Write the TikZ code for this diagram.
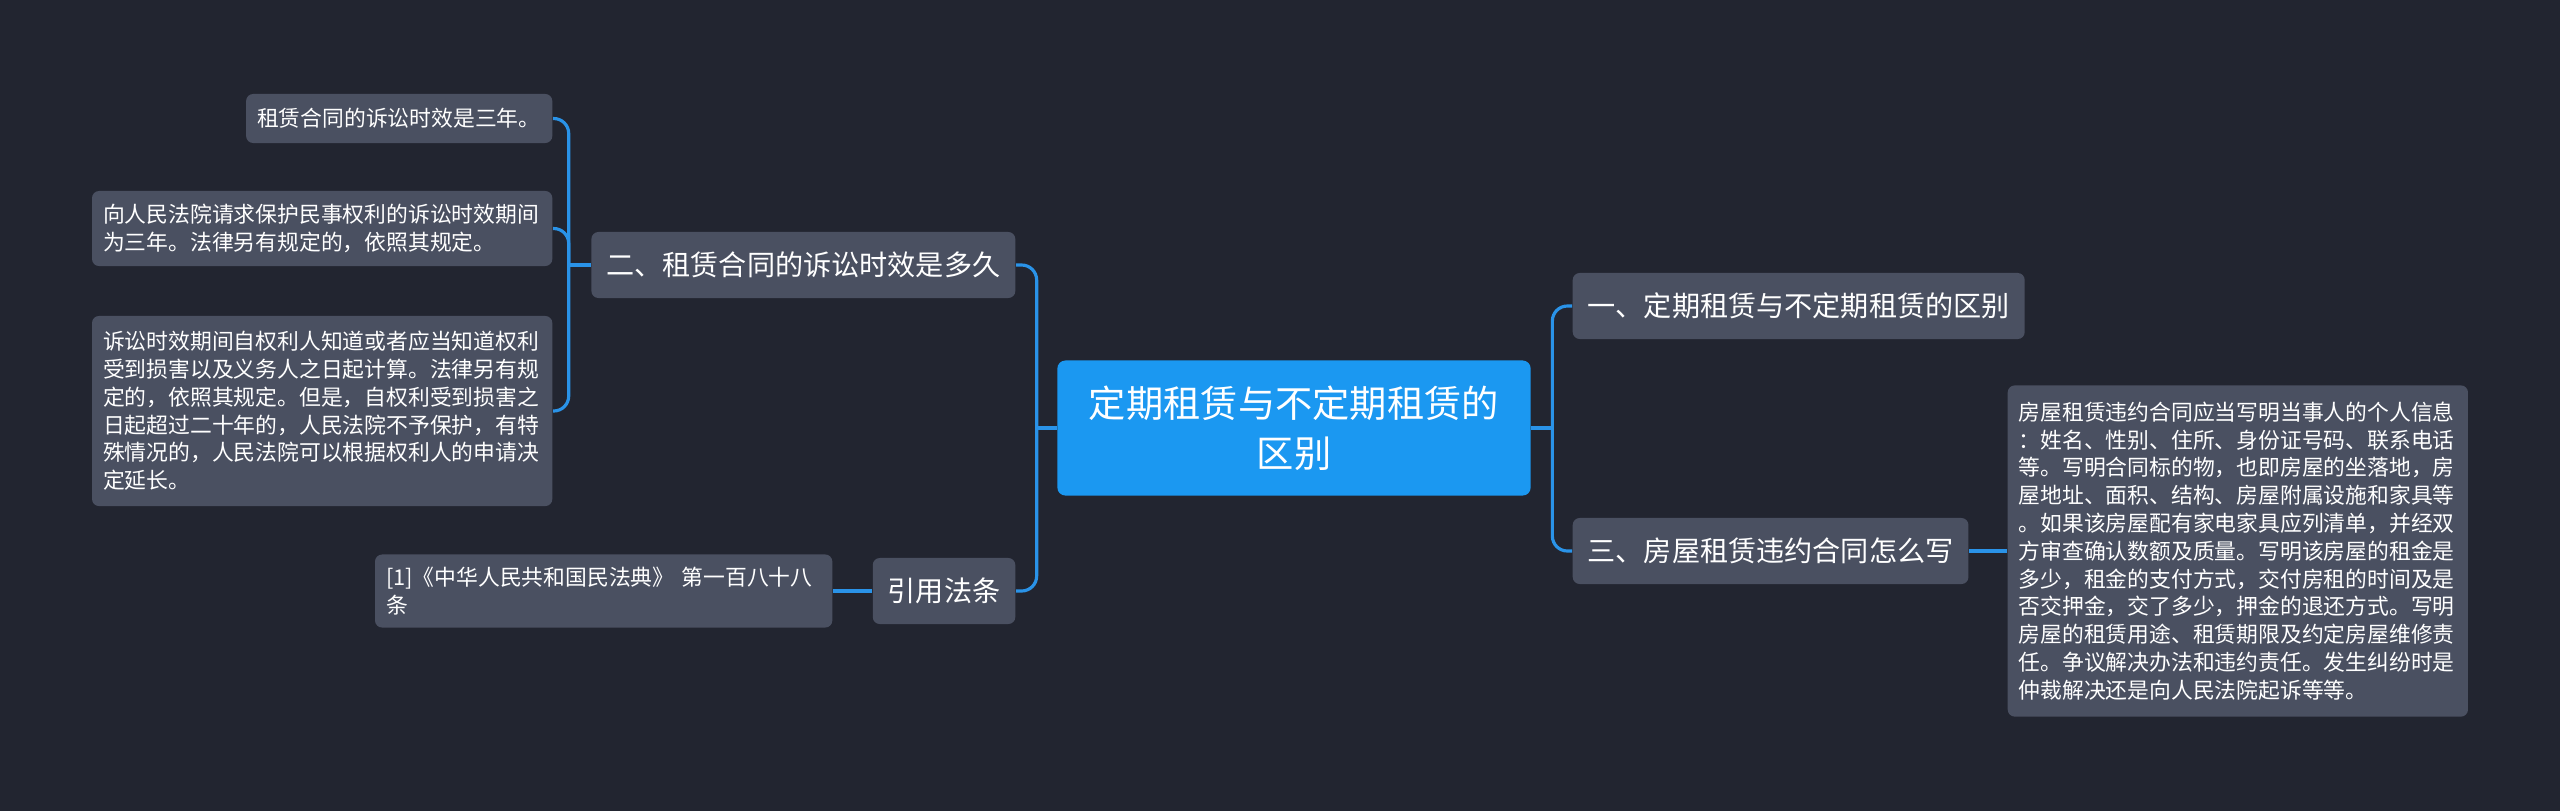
\documentclass[tikz,border=0pt]{standalone}
\usepackage{fontspec}
\newfontfamily\cjk{Noto Sans CJK SC}
\usetikzlibrary{calc}
\definecolor{bgDark}{HTML}{222530}
\definecolor{boxGray}{HTML}{4A5061}
\definecolor{rootBlue}{HTML}{1B98F1}
\definecolor{linkBlue}{HTML}{2A93E8}
\tikzset{
    rootNode/.style={rectangle, rounded corners=0.08cm, fill=rootBlue, text=white, font=\cjk\fontsize{10.6}{14.2}\selectfont, align=center, text width=4.3cm, minimum width=4.73cm, minimum height=1.35cm, inner sep=0pt},
    branchNode/.style={rectangle, rounded corners=0.07cm, fill=boxGray, text=white, font=\cjk\fontsize{8}{10}\selectfont, inner xsep=0.15cm, inner ysep=0pt, minimum height=0.66cm},
    leafNode/.style={rectangle, rounded corners=0.07cm, fill=boxGray, text=white, font=\cjk\fontsize{6.2}{7.9}\selectfont, align=left, inner xsep=0.11cm, inner ysep=0.1cm},
    linkLine/.style={draw=linkBlue, line width=0.9pt, rounded corners=0.15cm}
}
\begin{document}
\begin{tikzpicture}[x=0.01cm, y=-0.01cm]

        % --- Background ---
        \fill[bgDark] (0,0) rectangle (2560,811);

        % 1. Root
        \node[rootNode] (R) at (1294,428) {定期租赁与不定期租赁的\\区别};

        % 2. Branches (left side)
        \node[branchNode, anchor=east] (B2) at (1016,265) {二、租赁合同的诉讼时效是多久};
        \node[branchNode, anchor=east] (B4) at (1016,591) {引用法条};

        % 3. Branches (right side)
        \node[branchNode, anchor=west] (B1) at (1572,306) {一、定期租赁与不定期租赁的区别};
        \node[branchNode, anchor=west] (B3) at (1572,551) {三、房屋租赁违约合同怎么写};

        % 4. Leaves
        \node[leafNode, anchor=east, text width=2.84cm, minimum height=0.49cm] (L1) at (553,118.5)
            {租赁合同的诉讼时效是三年。};
        \node[leafNode, anchor=east, text width=4.38cm, minimum height=0.75cm] (L2) at (553,228.5)
            {向人民法院请求保护民事权利的诉讼时效期间\\为三年。法律另有规定的，依照其规定。};
        \node[leafNode, anchor=east, text width=4.38cm, minimum height=1.90cm] (L3) at (553,411)
            {诉讼时效期间自权利人知道或者应当知道权利\\受到损害以及义务人之日起计算。法律另有规\\定的，依照其规定。但是，自权利受到损害之\\日起超过二十年的，人民法院不予保护，有特\\殊情况的，人民法院可以根据权利人的申请决\\定延长。};
        \node[leafNode, anchor=east, text width=4.35cm, minimum height=0.73cm] (Ref) at (833,591)
            {[1]《中华人民共和国民法典》 第一百八十八\\条};
        \node[leafNode, anchor=west, text width=4.38cm, minimum height=3.31cm] (RL) at (2007,551)
            {房屋租赁违约合同应当写明当事人的个人信息\\：姓名、性别、住所、身份证号码、联系电话\\等。写明合同标的物，也即房屋的坐落地，房\\屋地址、面积、结构、房屋附属设施和家具等\\。如果该房屋配有家电家具应列清单，并经双\\方审查确认数额及质量。写明该房屋的租金是\\多少，租金的支付方式，交付房租的时间及是\\否交押金，交了多少，押金的退还方式。写明\\房屋的租赁用途、租赁期限及约定房屋维修责\\任。争议解决办法和违约责任。发生纠纷时是\\仲裁解决还是向人民法院起诉等等。};

        % 5. Connectors
        \draw[linkLine] (R.west) -- ++(-20,0) coordinate (lBus);
        \draw[linkLine] (lBus) |- (B2.east);
        \draw[linkLine] (lBus) |- (B4.east);

        \draw[linkLine] (R.east) -- ++(21,0) coordinate (rBus);
        \draw[linkLine] (rBus) |- (B1.west);
        \draw[linkLine] (rBus) |- (B3.west);

        \draw[linkLine] (B2.west) -- ++(-22,0) coordinate (b2Bus);
        \draw[linkLine] (b2Bus) |- (L1.east);
        \draw[linkLine] (b2Bus) |- (L2.east);
        \draw[linkLine] (b2Bus) |- (L3.east);

        \draw[linkLine] (B4.west) -- (Ref.east);
        \draw[linkLine] (B3.east) -- (RL.west);

\end{tikzpicture}
\end{document}
